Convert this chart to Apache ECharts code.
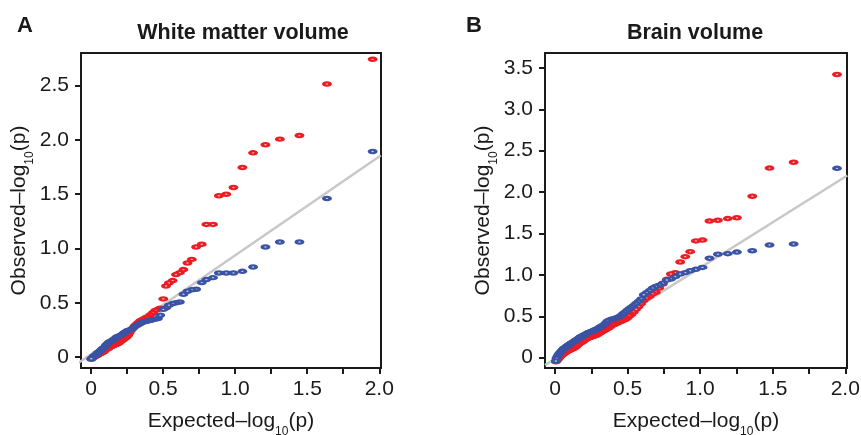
<!DOCTYPE html>
<html>
<head>
<meta charset="utf-8">
<script src="https://cdn.jsdelivr.net/npm/echarts@6/dist/echarts.min.js"></script>
<style>html,body{margin:0;padding:0;background:#fff}#c{width:861px;height:435px}</style>
</head>
<body>
<div id="c"></div>
<script>
// Panel A: White matter volume
var expectedA = [1.954, 1.637, 1.446, 1.31, 1.21, 1.124, 1.05, 0.988, 0.938, 0.887, 0.846, 0.800, 0.768, 0.729, 0.699, 0.669, 0.641, 0.616, 0.589, 0.566, 0.54, 0.52, 0.501, 0.48, 0.464,
  0.446, 0.429, 0.413, 0.398, 0.383, 0.369, 0.355, 0.341, 0.328, 0.316, 0.303, 0.291, 0.280, 0.268, 0.257, 0.247, 0.236, 0.226, 0.216, 0.206,
  0.196, 0.187, 0.178, 0.169, 0.160, 0.151, 0.143, 0.135, 0.127, 0.119, 0.111, 0.103, 0.095, 0.088, 0.081, 0.073, 0.066, 0.059, 0.053, 0.046,
  0.039, 0.033, 0.026, 0.020, 0.013, 0.007, 0.001];
var redA = [2.742, 2.515, 2.04, 2.007, 1.955, 1.881, 1.746, 1.562, 1.50, 1.486, 1.222, 1.222, 1.039, 1.014, 0.90, 0.867, 0.806, 0.778, 0.76, 0.705, 0.683, 0.655, 0.536, 0.45, 0.44,
  0.43, 0.41, 0.39, 0.375, 0.365, 0.355, 0.345, 0.335, 0.32, 0.305, 0.29, 0.27, 0.25, 0.225, 0.20, 0.185, 0.175, 0.165, 0.155, 0.145,
  0.135, 0.125, 0.12, 0.115, 0.11, 0.105, 0.10, 0.095, 0.09, 0.08, 0.075, 0.07, 0.06, 0.05, 0.045, 0.04, 0.035, 0.03, 0.025, 0.02,
  0.015, 0.01, 0.005, 0.0, -0.005, -0.01, -0.02];
var blueA = [1.893, 1.461, 1.06, 1.06, 1.014, 0.83, 0.79, 0.775, 0.775, 0.775, 0.732, 0.714, 0.686, 0.625, 0.62, 0.607, 0.579, 0.508, 0.50, 0.493, 0.478, 0.453, 0.44, 0.386, 0.355,
  0.35, 0.345, 0.34, 0.335, 0.33, 0.325, 0.32, 0.31, 0.30, 0.29, 0.28, 0.265, 0.255, 0.25, 0.245, 0.24, 0.23, 0.22, 0.21, 0.20,
  0.195, 0.19, 0.185, 0.175, 0.165, 0.155, 0.15, 0.145, 0.14, 0.13, 0.12, 0.11, 0.095, 0.085, 0.08, 0.07, 0.06, 0.05, 0.045, 0.04,
  0.03, 0.02, 0.015, 0.01, 0.0, -0.01, -0.015];
var fitA = [[-0.09, -0.055], [2.01, 1.856]];

// Panel B: Brain volume
var expectedB = [1.943, 1.644, 1.478, 1.359, 1.253, 1.19, 1.122, 1.064, 1.016, 0.97, 0.931, 0.897, 0.862, 0.828, 0.798, 0.77, 0.742,
  0.718, 0.694, 0.672, 0.651, 0.631, 0.611, 0.593, 0.575, 0.558, 0.542, 0.526, 0.511, 0.496, 0.482, 0.468, 0.455, 0.442, 0.429, 0.417, 0.405,
  0.393, 0.382, 0.371, 0.360, 0.350, 0.340, 0.330, 0.320, 0.310, 0.301, 0.292, 0.283, 0.274, 0.266, 0.257, 0.249, 0.241, 0.233, 0.225, 0.217,
  0.210, 0.202, 0.195, 0.188, 0.181, 0.174, 0.167, 0.160, 0.154, 0.147, 0.141, 0.134, 0.128, 0.122, 0.116, 0.110, 0.104, 0.098, 0.092, 0.087,
  0.081, 0.075, 0.070, 0.065, 0.059, 0.054, 0.049, 0.044, 0.039, 0.034, 0.029, 0.024, 0.019, 0.014, 0.009, 0.005];
var redB = [3.42, 2.36, 2.29, 1.95, 1.69, 1.68, 1.66, 1.65, 1.42, 1.41, 1.28, 1.22, 1.155, 1.027, 1.01, 0.946, 0.89,
  0.84, 0.79, 0.77, 0.74, 0.72, 0.69, 0.65, 0.615, 0.585, 0.55, 0.52, 0.50, 0.475, 0.46, 0.45, 0.44, 0.43, 0.42, 0.41, 0.40,
  0.39, 0.375, 0.36, 0.35, 0.34, 0.33, 0.32, 0.31, 0.30, 0.29, 0.28, 0.27, 0.265, 0.26, 0.255, 0.25, 0.245, 0.24, 0.235, 0.23,
  0.22, 0.21, 0.20, 0.19, 0.185, 0.18, 0.17, 0.16, 0.15, 0.14, 0.13, 0.12, 0.115, 0.11, 0.105, 0.10, 0.095, 0.09, 0.085, 0.08,
  0.075, 0.07, 0.06, 0.055, 0.05, 0.04, 0.035, 0.03, 0.02, 0.01, 0.0, -0.01, -0.02, -0.03, -0.04, -0.05];
var blueB = [2.287, 1.373, 1.361, 1.292, 1.275, 1.256, 1.249, 1.20, 1.09, 1.067, 1.05, 1.027, 1.01, 0.978, 0.95, 0.938, 0.90,
  0.875, 0.86, 0.84, 0.81, 0.785, 0.76, 0.71, 0.68, 0.655, 0.63, 0.61, 0.59, 0.57, 0.55, 0.53, 0.51, 0.495, 0.485, 0.475, 0.47,
  0.465, 0.46, 0.45, 0.44, 0.42, 0.40, 0.39, 0.38, 0.37, 0.36, 0.35, 0.34, 0.335, 0.33, 0.32, 0.315, 0.31, 0.305, 0.30, 0.29,
  0.28, 0.275, 0.27, 0.26, 0.255, 0.25, 0.24, 0.23, 0.22, 0.215, 0.21, 0.20, 0.19, 0.185, 0.18, 0.175, 0.165, 0.16, 0.15, 0.145,
  0.14, 0.13, 0.12, 0.115, 0.11, 0.10, 0.09, 0.08, 0.07, 0.06, 0.05, 0.04, 0.025, 0.01, -0.01, -0.04];
var fitB = [[-0.07, -0.09], [2.014, 2.2]];

var xTicks = [0, 0.25, 0.5, 0.75, 1.0, 1.25, 1.5, 1.75, 2.0];
var xLabels = [0, 0.5, 1.0, 1.5, 2.0];
var yLabelsA = [0, 0.5, 1.0, 1.5, 2.0, 2.5];
var yLabelsB = [0, 0.5, 1.0, 1.5, 2.0, 2.5, 3.0, 3.5];

var FONT = "'Liberation Sans', Arial, Helvetica, sans-serif";
var RED = '#ed1c24', BLUE = '#3a53a4', INK = '#1a1a1a';

function pairs(xs, ys) { return xs.map(function (x, i) { return [x, ys[i]]; }); }
function fmt(v) { return v === 0 ? '0' : v.toFixed(1); }

var nameRich = {
  a: { fontSize: 21, fontFamily: FONT, color: INK, lineHeight: 22, verticalAlign: 'top' },
  s: { fontSize: 12, fontFamily: FONT, color: INK, lineHeight: 12, verticalAlign: 'top', padding: [15, 0, 0, 0] }
};

function xAxis(gi) {
  return {
    type: 'value', gridIndex: gi, min: -0.07, max: 2.012,
    name: '{a|Expected\u2013log}{s|10}{a|(p)}', nameLocation: 'middle', nameGap: 43,
    nameTextStyle: { rich: nameRich },
    axisLine: { show: false, onZero: false },
    axisTick: { show: true, length: 6, lineStyle: { color: INK, width: 2 }, customValues: xTicks },
    axisLabel: { customValues: xLabels, formatter: fmt, fontSize: 21, fontFamily: FONT, color: INK, margin: 11 },
    splitLine: { show: false }
  };
}
function yAxis(gi, min, max, labels) {
  return {
    type: 'value', gridIndex: gi, min: min, max: max,
    name: '{a|Observed\u2013log}{s|10}{a|(p)}', nameLocation: 'middle', nameGap: 38,
    nameTextStyle: { rich: nameRich },
    axisLine: { show: false, onZero: false },
    axisTick: { show: true, length: 6, lineStyle: { color: INK, width: 2 }, customValues: labels },
    axisLabel: { customValues: labels, formatter: fmt, fontSize: 21, fontFamily: FONT, color: INK, margin: 12 },
    splitLine: { show: false }
  };
}
function pts(name, gi, data, color, fill, z) {
  return {
    name: name, type: 'scatter', xAxisIndex: gi, yAxisIndex: gi, data: data, z: z,
    symbol: 'circle', symbolSize: [6.2, 3.4],
    itemStyle: { color: fill, borderColor: color, borderWidth: 2.8, opacity: 1 },
    emphasis: { disabled: true }, silent: true
  };
}
function fit(gi, data) {
  return {
    type: 'line', xAxisIndex: gi, yAxisIndex: gi, data: data, symbol: 'none', clip: true, z: 1,
    lineStyle: { color: '#c8c8c8', width: 2.5 }, silent: true
  };
}

var chart = echarts.init(document.getElementById('c'), null, { renderer: 'canvas' });
chart.setOption({
  animation: false,
  backgroundColor: '#fff',
  title: [
    { text: 'A', left: 12, top: 10, textStyle: { fontSize: 22, fontWeight: 'bold', fontFamily: FONT, color: INK } },
    { text: 'White matter volume', left: 238, top: 17, textAlign: 'center', textStyle: { fontSize: 21.5, fontWeight: 'bold', fontFamily: FONT, color: INK } },
    { text: 'B', left: 461, top: 10, textStyle: { fontSize: 22, fontWeight: 'bold', fontFamily: FONT, color: INK } },
    { text: 'Brain volume', left: 690, top: 17, textAlign: 'center', textStyle: { fontSize: 21.5, fontWeight: 'bold', fontFamily: FONT, color: INK } }
  ],
  grid: [
    { left: 81, right: 480, top: 53, bottom: 67, outerBoundsMode: 'none', containLabel: false, show: true, borderColor: INK, borderWidth: 2, backgroundColor: 'transparent' },
    { left: 545, right: 14, top: 53, bottom: 67, outerBoundsMode: 'none', containLabel: false, show: true, borderColor: INK, borderWidth: 2, backgroundColor: 'transparent' }
  ],
  xAxis: [xAxis(0), xAxis(1)],
  yAxis: [yAxis(0, -0.1, 2.8, yLabelsA), yAxis(1, -0.125, 3.68, yLabelsB)],
  series: [
    fit(0, fitA),
    pts('red', 0, pairs(expectedA, redA), RED, '#f7c4c4', 2),
    pts('blue', 0, pairs(expectedA, blueA), BLUE, '#c8d0ea', 3),
    fit(1, fitB),
    pts('red', 1, pairs(expectedB, redB), RED, '#f7c4c4', 2),
    pts('blue', 1, pairs(expectedB, blueB), BLUE, '#c8d0ea', 3)
  ]
});
</script>
</body>
</html>
